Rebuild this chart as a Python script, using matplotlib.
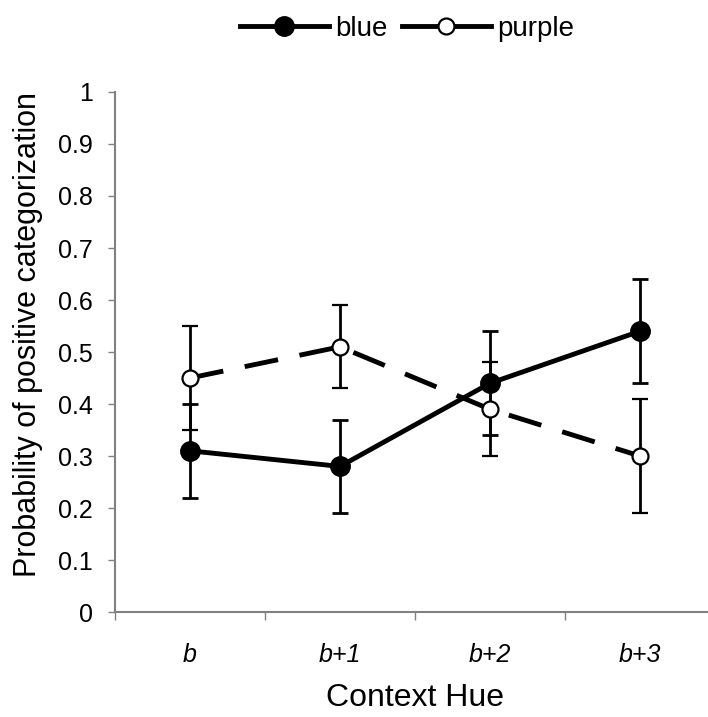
import matplotlib.pyplot as plt
from matplotlib.lines import Line2D
from matplotlib.ticker import FixedLocator, NullFormatter, FixedFormatter

categories = ['b', 'b+1', 'b+2', 'b+3']
blue = [0.31, 0.28, 0.44, 0.54]
blue_err = [0.09, 0.09, 0.10, 0.10]
purple = [0.45, 0.51, 0.39, 0.30]
purple_err = [0.10, 0.08, 0.09, 0.11]


def main():
    plt.rcParams['font.family'] = ['Liberation Sans', 'DejaVu Sans']
    fig = plt.figure(figsize=(7.08, 7.17), dpi=100)
    ax = fig.add_axes([0.1624, 0.1464, 0.8475, 0.7253])

    x = list(range(1, len(categories) + 1))

    ax.errorbar(x, blue, yerr=blue_err, color='black', lw=3.5, marker='o',
                ms=14, mfc='black', mec='black', ecolor='black',
                elinewidth=2, capsize=5.5, capthick=2, zorder=3)
    ax.errorbar(x, purple, yerr=purple_err, color='black', lw=3.5,
                dashes=(7, 4.5), marker='o', ms=11.5, mfc='white', mec='black',
                mew=1.6, ecolor='black', elinewidth=2, capsize=5.5, capthick=2,
                zorder=3)

    ax.set_xlim(0.5, 4.5)
    ax.set_ylim(0, 1)
    ax.set_yticks([i / 10 for i in range(11)])
    ax.set_yticklabels(['0'] + [f'{i / 10:g}' for i in range(1, 10)] + ['1'])

    ax.xaxis.set_major_locator(FixedLocator([0.5, 1.5, 2.5, 3.5]))
    ax.xaxis.set_major_formatter(NullFormatter())
    ax.xaxis.set_minor_locator(FixedLocator(x))
    ax.xaxis.set_minor_formatter(FixedFormatter(categories))
    ax.tick_params(axis='x', which='minor', length=0, pad=22, labelsize=18)
    for lbl in ax.get_xticklabels(minor=True):
        lbl.set_fontstyle('italic')
    ax.tick_params(axis='x', which='major', length=6, color='#808080', width=1)
    ax.tick_params(axis='y', length=5, color='#808080', width=1, labelsize=18,
                   pad=11)

    for s in ['top', 'right']:
        ax.spines[s].set_visible(False)
    for s in ['left', 'bottom']:
        ax.spines[s].set_color('#808080')
        ax.spines[s].set_linewidth(1.5)

    ax.set_xlabel('Context Hue', fontsize=23, labelpad=12)
    ax.set_ylabel('Probability of positive categorization', fontsize=22)
    ax.yaxis.set_label_coords(-0.12, 0.533)

    # legend shows solid lines for both series
    handles = [
        Line2D([], [], color='black', lw=3.5, marker='o', ms=14,
               mfc='black', mec='black'),
        Line2D([], [], color='black', lw=3.5, marker='o', ms=11.5,
               mfc='white', mec='black', mew=1.6),
    ]
    fig.legend(handles, ['blue', 'purple'], loc='upper center', ncol=2,
               frameon=False, fontsize=20, bbox_to_anchor=(0.575, 1.013),
               handlelength=3.2, handletextpad=0.25, columnspacing=0.5)

    fig.savefig('out.png', dpi=100, facecolor='white')


if __name__ == '__main__':
    main()
